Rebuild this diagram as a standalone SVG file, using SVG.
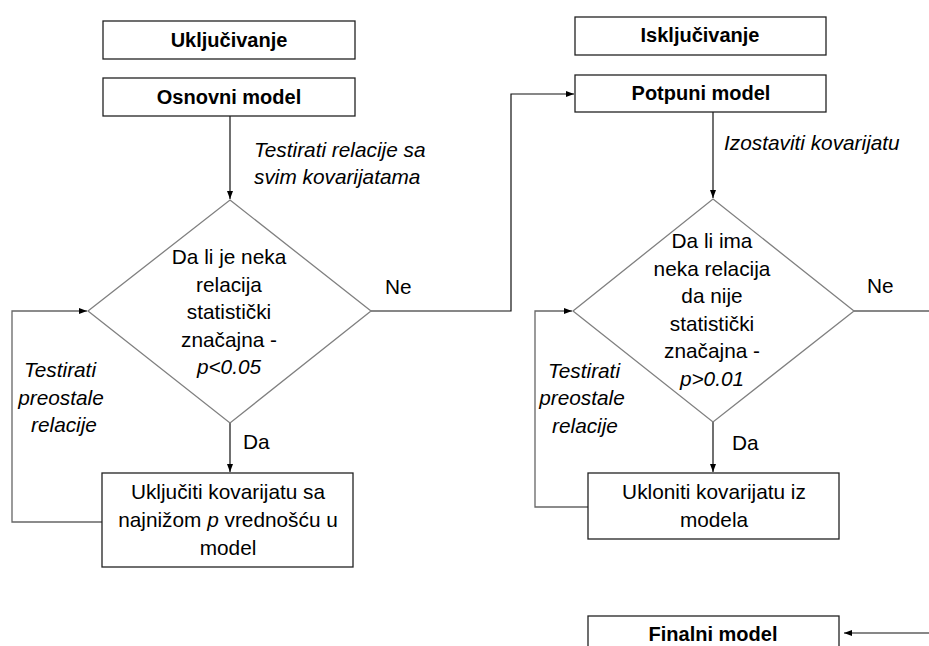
<svg xmlns="http://www.w3.org/2000/svg" width="929" height="646" viewBox="0 0 929 646">
<defs>
<marker id="ah" markerWidth="8" markerHeight="6" refX="8" refY="3" orient="auto" markerUnits="userSpaceOnUse">
<path d="M0,0 L8,3 L0,6 Z" fill="#000"/>
</marker>
<style>
text{font-family:"Liberation Sans",Arial,sans-serif;font-size:20.8px;fill:#000}
.b{font-weight:bold;font-size:20px}
.i{font-style:italic}
.m{text-anchor:middle}
.box{fill:#fff;stroke:#222;stroke-width:1.3}
.dia{fill:#fff;stroke:#808080;stroke-width:1.3}
.c{fill:none;stroke:#111;stroke-width:1.2}
.g{fill:none;stroke:#666;stroke-width:1.3}
</style>
</defs>
<rect width="929" height="646" fill="#fff"/>

<g id="connectors">
<path class="c" d="M230,116 V199" marker-end="url(#ah)"/>
<path class="c" d="M371,311 H511 V94 H574" marker-end="url(#ah)"/>
<path class="c" d="M230,423 V472" marker-end="url(#ah)"/>
<path class="g" d="M102,522 H12 V311 H87" marker-end="url(#ah)"/>
<path class="c" d="M713,112 V198" marker-end="url(#ah)"/>
<path class="c" d="M854,311 H929"/>
<path class="c" d="M713,422 V472" marker-end="url(#ah)"/>
<path class="g" d="M588,507 H535 V311 H572" marker-end="url(#ah)"/>
<path class="c" d="M929,633 H844" marker-end="url(#ah)"/>
</g>

<g id="ukljucivanje">
<rect class="box" x="103" y="21" width="252" height="38"/>
<text class="b m" x="229" y="47">Uključivanje</text>
</g>
<g id="osnovni">
<rect class="box" x="103" y="78" width="252" height="38"/>
<text class="b m" x="229" y="104">Osnovni model</text>
</g>
<g id="label-testirati-sve">
<text class="i" x="254" y="157">Testirati relacije sa</text>
<text class="i" x="254" y="184">svim kovarijatama</text>
</g>
<g id="odluka1">
<polygon class="dia" points="230,200 371,311 230,423 88,311"/>
<text class="m" x="229" y="264">Da li je neka</text>
<text class="m" x="229" y="291.5">relacija</text>
<text class="m" x="229" y="319">statistički</text>
<text class="m" x="229" y="346.5">značajna  -</text>
<text class="m i" x="229" y="374">p&lt;0.05</text>
</g>
<g id="label-ne1"><text x="385" y="294">Ne</text></g>
<g id="label-da1"><text x="243" y="449">Da</text></g>
<g id="label-preostale1">
<text class="i m" x="60" y="377">Testirati</text>
<text class="i m" x="61" y="404.5">preostale</text>
<text class="i m" x="64" y="432">relacije</text>
</g>
<g id="ukljuciti">
<rect class="box" x="102" y="473" width="251" height="94"/>
<text class="m" x="228" y="499">Uključiti kovarijatu sa</text>
<text class="m" x="228" y="527">najnižom <tspan class="i">p</tspan> vrednošću u</text>
<text class="m" x="228" y="555">model</text>
</g>

<g id="iskljucivanje">
<rect class="box" x="575" y="17" width="251" height="38"/>
<text class="b m" x="700" y="42">Isključivanje</text>
</g>
<g id="potpuni">
<rect class="box" x="575" y="75" width="251" height="37"/>
<text class="b m" x="701" y="100">Potpuni model</text>
</g>
<g id="label-izostaviti"><text class="i" x="724" y="150">Izostaviti kovarijatu</text></g>
<g id="odluka2">
<polygon class="dia" points="713,199 854,311 713,422 573,311"/>
<text class="m" x="712" y="248">Da li ima</text>
<text class="m" x="712" y="276">neka relacija</text>
<text class="m" x="712" y="303">da nije</text>
<text class="m" x="712" y="331">statistički</text>
<text class="m" x="712" y="358">značajna -</text>
<text class="m i" x="712" y="386">p&gt;0.01</text>
</g>
<g id="label-ne2"><text x="867" y="293">Ne</text></g>
<g id="label-da2"><text x="732" y="450">Da</text></g>
<g id="label-preostale2">
<text class="i m" x="584" y="378">Testirati</text>
<text class="i m" x="582" y="405">preostale</text>
<text class="i m" x="585" y="433">relacije</text>
</g>
<g id="ukloniti">
<rect class="box" x="588" y="473" width="251" height="66"/>
<text class="m" x="714" y="499">Ukloniti kovarijatu iz</text>
<text class="m" x="714" y="527">modela</text>
</g>
<g id="finalni">
<rect class="box" x="588" y="616" width="251" height="40"/>
<text class="b m" x="713" y="641">Finalni model</text>
</g>
</svg>
